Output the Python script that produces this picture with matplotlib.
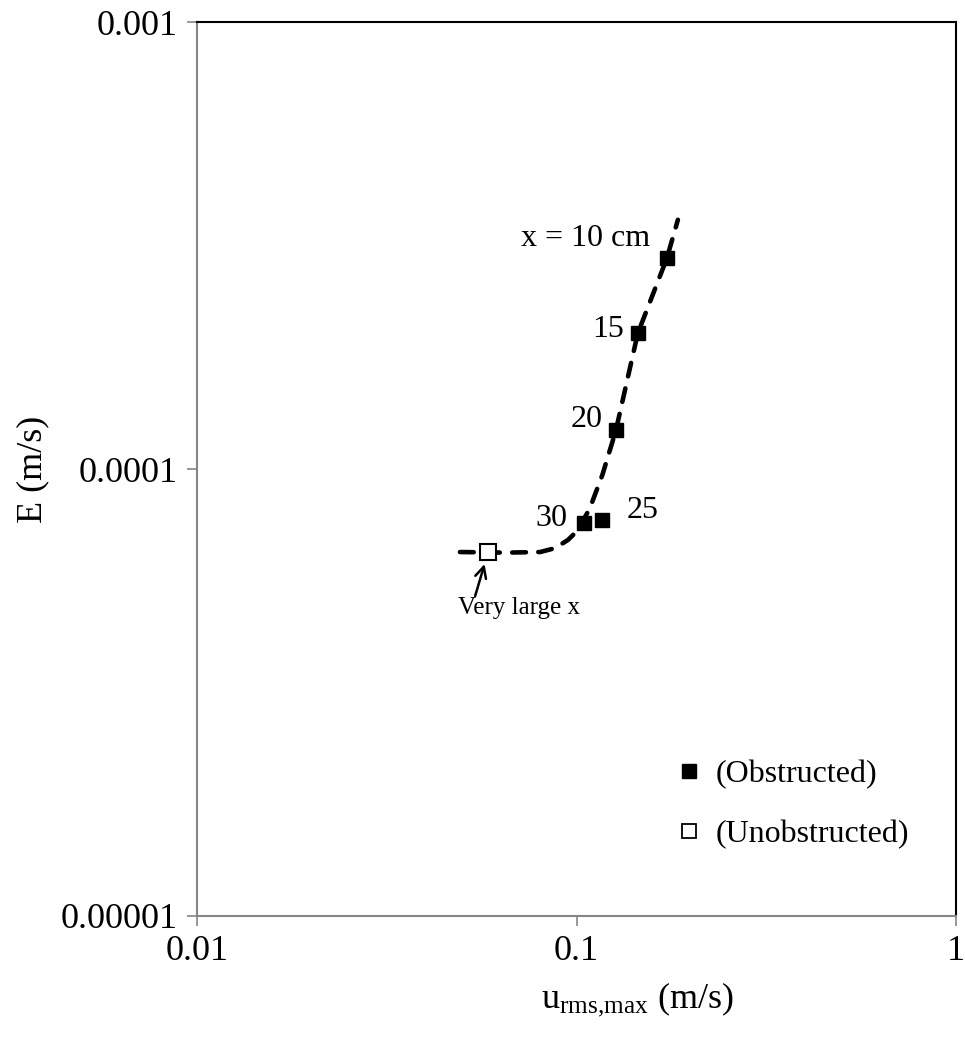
import matplotlib
matplotlib.use("Agg")
import matplotlib.pyplot as plt
from matplotlib.ticker import FixedLocator, FixedFormatter, NullLocator

plt.rcParams['font.family'] = ['Liberation Serif', 'DejaVu Serif']
plt.rcParams['mathtext.fontset'] = 'custom'
plt.rcParams['mathtext.rm'] = 'Liberation Serif'
plt.rcParams['mathtext.it'] = 'Liberation Serif:italic'

# Obstructed measurements at increasing distance x (cm)
obs_labels = ["x = 10 cm", "15", "20", "25", "30"]
obs_u = [0.173, 0.145, 0.127, 0.1167, 0.1047]
obs_E = [2.96e-4, 2.01e-4, 1.22e-4, 7.69e-5, 7.57e-5]

# Unobstructed (very large x) value
unobs_u = [0.0585]
unobs_E = [6.52e-5]

# Trend curve
trend_u = [0.0493, 0.0650, 0.0802, 0.0877, 0.0950, 0.1009, 0.1085, 0.1170,
           0.1270, 0.1450, 0.1730, 0.1850]
trend_E = [6.52e-5, 6.50e-5, 6.52e-5, 6.65e-5, 6.94e-5, 7.30e-5, 8.18e-5, 9.70e-5,
           1.22e-4, 2.01e-4, 2.96e-4, 3.61e-4]

x_ticks = [0.01, 0.1, 1]
x_tick_labels = ["0.01", "0.1", "1"]
y_ticks = [1e-5, 1e-4, 1e-3]
y_tick_labels = ["0.00001", "0.0001", "0.001"]

W, H = 965, 1041
fig = plt.figure(figsize=(W / 100, H / 100), dpi=100)
ax = fig.add_axes([197 / W, 1 - 916 / H, (956 - 197) / W, (916 - 22) / H])
ax.set_xscale('log')
ax.set_yscale('log')
ax.set_xlim(0.01, 1)
ax.set_ylim(1e-5, 1e-3)

ax.plot(trend_u, trend_E, color='black', lw=3.3, ls=(0, (3.0, 2.7)),
        dash_capstyle='round', zorder=2)
ax.plot(obs_u, obs_E, ls='none', marker='s', ms=10.5, mfc='black', mec='black',
        zorder=3)
ax.plot(unobs_u, unobs_E, ls='none', marker='s', ms=12, mfc='white', mec='black',
        mew=1.5, zorder=3)

fs_tick = 26
fs_pt = 23
# Point labels: (dx, dy) in pixels from the marker, alignment
offsets = [(-17, 20, 'right'), (-14, 4, 'right'), (-13, 11, 'right'),
           (25, 9, 'left'), (-17, 5, 'right')]
for lab, u, e, (dx, dy, ha) in zip(obs_labels, obs_u, obs_E, offsets):
    ax.annotate(lab, (u, e), xytext=(dx, dy), textcoords='offset pixels',
                ha=ha, va='center', fontsize=fs_pt)

# Pointer and caption for the unobstructed case
ax.annotate("", xy=(unobs_u[0], unobs_E[0]), xytext=(-13, -44),
            textcoords='offset pixels',
            arrowprops=dict(arrowstyle='->', color='black', lw=1.8,
                            shrinkA=0, shrinkB=9, mutation_scale=20))
ax.annotate("Very large x", xy=(unobs_u[0], unobs_E[0]), xytext=(31, -45),
            textcoords='offset pixels', ha='center', va='top', fontsize=18)

# Axes styling
for side in ['left', 'bottom']:
    ax.spines[side].set_color('#868686')
    ax.spines[side].set_linewidth(1.5)
for side in ['top', 'right']:
    ax.spines[side].set_color('black')
    ax.spines[side].set_linewidth(1.5)

ax.xaxis.set_major_locator(FixedLocator(x_ticks))
ax.xaxis.set_major_formatter(FixedFormatter(x_tick_labels))
ax.yaxis.set_major_locator(FixedLocator(y_ticks))
ax.yaxis.set_major_formatter(FixedFormatter(y_tick_labels))
ax.xaxis.set_minor_locator(NullLocator())
ax.yaxis.set_minor_locator(NullLocator())
ax.tick_params(axis='both', direction='out', length=7, width=1.2, color='#868686',
               labelsize=fs_tick, pad=7)

ax.set_xlabel(r"u$_{\mathrm{rms{,}max}}$ (m/s)", fontsize=26)
ax.xaxis.set_label_coords(0.58, -0.072)
ax.set_ylabel("E (m/s)", fontsize=26)
ax.yaxis.set_label_coords(-0.195, 0.5)

# Legend
leg_h = [
    plt.Line2D([], [], ls='none', marker='s', ms=10, mfc='black', mec='black'),
    plt.Line2D([], [], ls='none', marker='s', ms=10.5, mfc='white', mec='black', mew=1.3),
]
ax.legend(leg_h, ["(Obstructed)", "(Unobstructed)"], loc='upper left',
          bbox_to_anchor=((676 - 197) / (956 - 197), 1 - (760 - 22) / (916 - 22)),
          frameon=False, fontsize=23, handlelength=0.8, handletextpad=0.45,
          labelspacing=0.95, borderaxespad=0, borderpad=0)

fig.savefig("out.png", dpi=100)
